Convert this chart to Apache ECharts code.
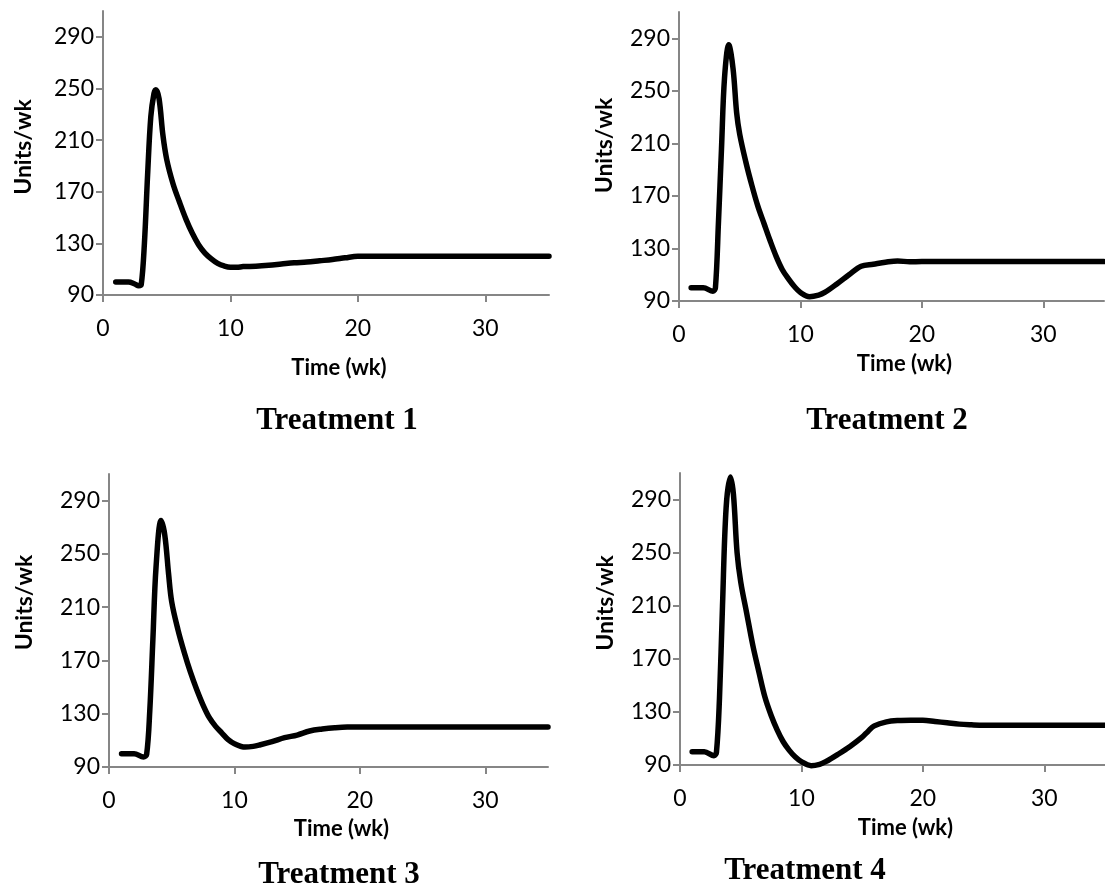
<!DOCTYPE html>
<html><head><meta charset="utf-8">
<script src="https://cdn.jsdelivr.net/npm/echarts@6/dist/echarts.min.js"></script>
<style>html,body{margin:0;padding:0;background:#fff}#c{width:1105px;height:891px}</style>
</head><body><div id="c"></div>
<script>
// ---- data ----
const titles = ['Treatment 1', 'Treatment 2', 'Treatment 3', 'Treatment 4'];
const xAxisName = 'Time (wk)';
const yAxisName = 'Units/wk';
const xTicks = [0, 10, 20, 30];
const yTicks = [90, 130, 170, 210, 250, 290];

const weeks1 = [1,1.5,2,2.5,2.8,3,3.25,3.5,3.75,4,4.15,4.4,4.7,5,5.5,6,6.5,7,7.5,8,8.5,9,9.5,10,10.5,11,12,13,14,15,16,17,18,19,20,25,30,35];
const units1 = [100,100,100,98.5,97.2,98,130,183,228,246,249,242,214,195,176,162,149,138,129,122.5,118,114.5,112.5,111.5,111.5,112,112.3,113,114,115,115.5,116.5,117.5,118.8,120,120,120,120];

const weeks2 = [1,2,2.8,3,3.25,3.5,3.75,4.1,4.45,4.75,5,5.5,6,6.5,7,7.5,8,8.5,9,9.5,10,10.75,11.5,12,13,14,15,16,17,18,19,20,25,30,35];
const units2 = [100,100,97.5,100,150,206,260,285,267,233,217,196,178,162,149,136,124,114,107,101,96.5,93.3,94.5,96.5,103,110,116.5,118,119.5,120.5,119.8,120,120,120,120];

const weeks3 = [1,2,2.75,3,3.25,3.5,3.75,4.15,4.45,4.75,5,5.5,6,6.5,7,7.5,8,8.5,9,9.5,10,10.85,11.5,12,13,14,15,16,17,18,19,20,25,30,35];
const units3 = [100,100,97.5,99.5,132,186,240,275,264,235,214,193,176,161,148,136.5,127,120.5,115.5,110.5,107.5,105,105.5,106.5,109,112,114,117,118.5,119.5,120,120,120,120,120];

const weeks4 = [1,2,2.8,3,3.25,3.5,3.8,4.15,4.4,4.7,5,5.5,6,6.5,7,7.5,8,8.5,9,9.5,10,10.8,11.5,12,13,14,15,15.5,16,17,18,19,20,21,22,23,24,25,30,35];
const units4 = [100,100,97,99.5,140,210,284,307,294,250,228,204,180,160,141,127.5,116.5,107.5,101,96,92.5,89.5,90.5,92.5,98,104,111,115.5,119.5,122.5,123.5,123.7,123.7,122.8,121.8,120.8,120.3,120,120,120];

const allWeeks = [weeks1, weeks2, weeks3, weeks4];
const allUnits = [units1, units2, units3, units4];

// ---- layout ----
const layouts = [
  {left:103, top:11,  width:446, height:284, xGap:62, yGap:68, yPad:12, tx:337, ty:421},
  {left:679, top:12,  width:425, height:289, xGap:52, yGap:63, yPad:22, tx:887, ty:421},
  {left:109, top:474, width:439, height:293, xGap:51, yGap:73, yPad:36, tx:339, ty:875},
  {left:680, top:473, width:425, height:292, xGap:52, yGap:63, yPad:32, tx:805, ty:871}
];

const axisGray = '#868686';
const sansFont = 'Lato';

const grid = [], xAxis = [], yAxis = [], series = [], graphic = [];
layouts.forEach((L, i) => {
  grid.push({left:L.left, top:L.top, width:L.width, height:L.height, containLabel:false});
  xAxis.push({
    type:'value', gridIndex:i, min:0, max:35,
    axisLine:{show:true, onZero:false, lineStyle:{color:axisGray, width:2}},
    axisTick:{show:true, length:7, customValues:xTicks, lineStyle:{color:axisGray, width:2}},
    axisLabel:{customValues:xTicks, color:'#000', fontSize:23, fontFamily:sansFont, margin:22},
    splitLine:{show:false},
    name:xAxisName, nameLocation:'middle', nameGap:L.xGap,
    nameTextStyle:{fontFamily:sansFont, fontWeight:'bold', fontSize:22, color:'#000', padding:[0,0,0,26]}
  });
  yAxis.push({
    type:'value', gridIndex:i, min:90, max:310,
    axisLine:{show:true, lineStyle:{color:axisGray, width:2}},
    axisTick:{show:true, length:7, customValues:yTicks, lineStyle:{color:axisGray, width:2}},
    axisLabel:{customValues:yTicks, color:'#000', fontSize:23, fontFamily:sansFont, margin:9},
    splitLine:{show:false},
    name:yAxisName, nameLocation:'middle', nameGap:L.yGap, nameRotate:90,
    nameTextStyle:{fontFamily:sansFont, fontWeight:'bold', fontSize:23, color:'#000', padding:[0,0,0,L.yPad]}
  });
  series.push({
    type:'line', xAxisIndex:i, yAxisIndex:i,
    data: allWeeks[i].map((w, k) => [w, allUnits[i][k]]),
    showSymbol:false, smooth:0.35, clip:false,
    lineStyle:{color:'#000', width:5.5, cap:'round', join:'round'},
    silent:true
  });
  graphic.push({
    type:'text', x:L.tx, y:L.ty,
    style:{text:titles[i], align:'center', verticalAlign:'middle',
      font:'bold 31px "Liberation Serif", "Times New Roman", serif', fill:'#000'}
  });
});

const chart = echarts.init(document.getElementById('c'), null, {renderer:'canvas'});
chart.setOption({
  animation:false,
  backgroundColor:'#fff',
  grid, xAxis, yAxis, series, graphic
});
</script>
</body></html>
